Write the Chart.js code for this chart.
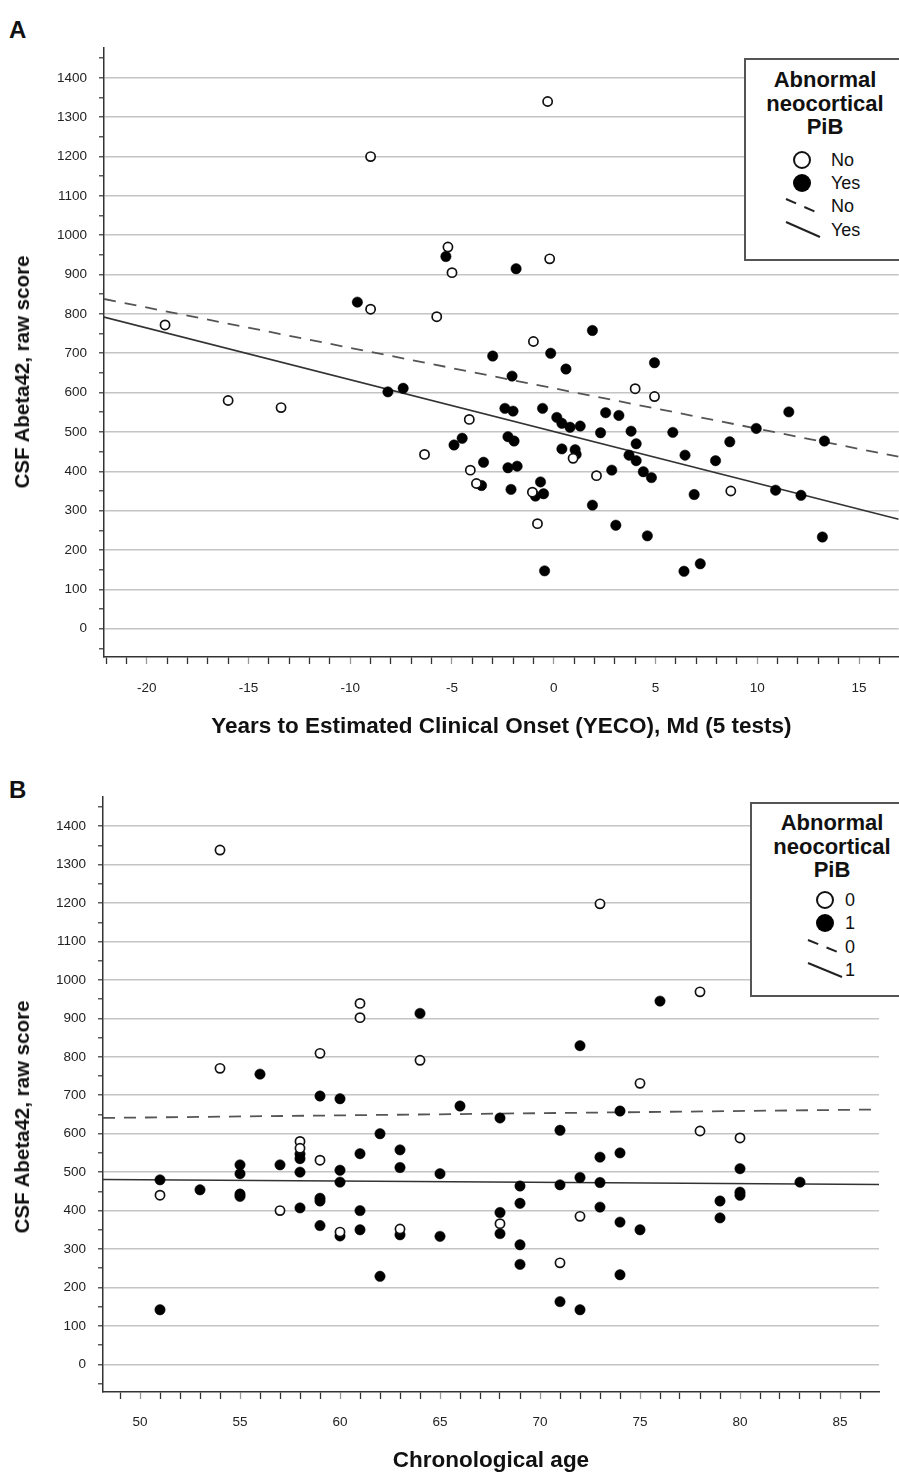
<!DOCTYPE html>
<html lang="en">
<head>
<meta charset="UTF-8">
<title>CSF Abeta42 by YECO and by age</title>
<script src="https://cdn.jsdelivr.net/npm/chart.js"></script>
<style>
  html, body { margin: 0; padding: 0; background: #fff; overflow: hidden; }
  body { position: relative; width: 899px; height: 1474px; font-family: "Liberation Sans", Arial, sans-serif; color: #111; }
  .panel { position: absolute; left: 0; }
  .letter { position: absolute; left: 9px; font-size: 24px; font-weight: bold; line-height: 26px; }
  .ytitle { position: absolute; left: 22px; width: 0; height: 0; }
  .ytitle span { position: absolute; left: 0; top: 0; transform: translate(-50%, -50%) rotate(-90deg);
    white-space: nowrap; font-weight: bold; font-size: 20.5px; line-height: 24px; }
  .legend { position: absolute; background: #fff; border: 2px solid #555; box-sizing: border-box; }
  .legend .ttl { text-align: center; font-weight: bold; font-size: 22px; line-height: 23.5px; }
  .legend svg { position: absolute; left: 0; top: 0; }
  .legend .item { position: absolute; font-size: 18px; line-height: 20px; }
</style>
</head>
<body>

<div class="letter" style="top:17px;">A</div>
<div class="letter" style="top:777px;">B</div>

<canvas id="chartA" class="panel" style="top:0;" width="905" height="760"></canvas>
<canvas id="chartB" class="panel" style="top:760px;" width="899" height="714"></canvas>

<div class="ytitle" style="top:372px;"><span>CSF Abeta42, raw score</span></div>
<div class="ytitle" style="top:1117px;"><span>CSF Abeta42, raw score</span></div>

<!-- legend panel A -->
<div class="legend" style="left:744px; top:58px; width:162px; height:203px;">
  <div class="ttl" style="padding-top:8px;">Abnormal<br>neocortical<br>PiB</div>
  <svg width="160" height="200">
    <circle cx="56" cy="100" r="8" fill="#fff" stroke="#111" stroke-width="2"/>
    <circle cx="56" cy="123" r="9" fill="#000"/>
    <line x1="40" y1="139" x2="72" y2="153" stroke="#222" stroke-width="2" stroke-dasharray="11 9"/>
    <line x1="40" y1="162" x2="74" y2="177" stroke="#222" stroke-width="2"/>
  </svg>
  <div class="item" style="left:85px; top:90px;">No</div>
  <div class="item" style="left:85px; top:113px;">Yes</div>
  <div class="item" style="left:85px; top:136px;">No</div>
  <div class="item" style="left:85px; top:160px;">Yes</div>
</div>

<!-- legend panel B -->
<div class="legend" style="left:750px; top:802px; width:164px; height:195px;">
  <div class="ttl" style="padding-top:7px;">Abnormal<br>neocortical<br>PiB</div>
  <svg width="160" height="192">
    <circle cx="73" cy="96" r="8" fill="#fff" stroke="#111" stroke-width="2"/>
    <circle cx="73" cy="119" r="9" fill="#000"/>
    <line x1="56" y1="136" x2="88" y2="149" stroke="#222" stroke-width="2" stroke-dasharray="11 9"/>
    <line x1="56" y1="159" x2="90" y2="173" stroke="#222" stroke-width="2"/>
  </svg>
  <div class="item" style="left:93px; top:86px;">0</div>
  <div class="item" style="left:93px; top:109px;">1</div>
  <div class="item" style="left:93px; top:133px;">0</div>
  <div class="item" style="left:93px; top:156px;">1</div>
</div>

<script>
  // ---- panel A: years to estimated clinical onset ----
  const yecoNoPib  = [-19.1, -16.0, -13.4, -9.0, -9.0, -6.35, -5.75, -5.2, -5.0, -4.15, -4.1, -3.8, -1.05, -1.0, -0.8, -0.3, -0.2, 0.95, 2.1, 4.0, 4.95, 8.7];
  const abetaNoPibA = [772, 580, 562, 1200, 812, 443, 793, 970, 905, 532, 403, 369, 347, 730, 267, 1340, 940, 433, 389, 610, 590, 350];

  const yecoPib = [-9.65, -8.15, -7.4, -5.3, -4.9, -4.5, -3.55, -3.45, -3.0, -2.4, -2.25, -2.25, -2.1, -2.05, -2.0, -1.95, -1.85, -1.8,
    -0.9, -0.65, -0.55, -0.5, -0.45, -0.15, 0.15, 0.4, 0.4, 0.6, 0.8, 1.05, 1.1, 1.3, 1.9, 1.9, 2.3, 2.55, 2.85, 3.05, 3.2, 3.7,
    3.8, 4.05, 4.05, 4.4, 4.6, 4.8, 4.95, 5.85, 6.4, 6.45, 6.9, 7.2, 7.95, 8.65, 9.95, 10.9, 11.55, 12.15, 13.2, 13.3];
  const abetaPibA = [830, 602, 611, 946, 467, 484, 364, 423, 693, 560, 488, 409, 354, 642, 553, 477, 915, 413,
    337, 373, 560, 343, 147, 700, 537, 522, 457, 660, 512, 455, 443, 515, 758, 314, 498, 549, 403, 263, 542, 441,
    502, 470, 427, 399, 236, 384, 676, 499, 146, 441, 341, 165, 427, 475, 509, 352, 551, 339, 233, 477];

  // fit lines, read at the left and right edge of the plot
  const yecoEnds = [-22.1, 16.95];
  const fitNoA   = [838, 437];
  const fitYesA  = [792, 278];

  // ---- panel B: chronological age ----
  const ageNoPib = [51, 54, 54, 57, 58, 58, 59, 59, 60, 61, 61, 63, 64, 68, 71, 72, 73, 75, 78, 78, 80];
  const abetaNoPibB = [440, 1338, 770, 400, 580, 562, 809, 531, 344, 939, 902, 352, 791, 366, 264, 385, 1198, 731, 969, 607, 589];

  const agePib = [51, 51, 53, 55, 55, 55, 55, 56, 57, 58, 58, 58, 58, 59, 59, 59, 59, 60, 60, 60, 60, 61, 61, 61, 62, 62,
    63, 63, 63, 64, 65, 65, 66, 68, 68, 68, 69, 69, 69, 69, 71, 71, 71, 72, 72, 72, 73, 73, 73, 74, 74, 74, 74, 75, 76,
    79, 79, 80, 80, 80, 83];
  const abetaPibB = [480, 142, 454, 519, 496, 443, 437, 755, 519, 547, 535, 500, 407, 698, 432, 425, 361, 691, 505, 474, 334, 548, 400, 350, 600, 229,
    558, 512, 337, 913, 496, 333, 672, 641, 395, 340, 464, 419, 311, 260, 609, 467, 163, 829, 486, 142, 539, 473, 409, 659, 550, 370, 233, 350, 945,
    425, 381, 509, 448, 440, 474];

  const ageEnds = [48.15, 86.95];
  const fitNoB  = [641, 663];
  const fitYesB = [481, 468];

  // ---- axis ticks ----
  const yLabels = [0, 100, 200, 300, 400, 500, 600, 700, 800, 900, 1000, 1100, 1200, 1300, 1400];
  const xLabelsA = [-20, -15, -10, -5, 0, 5, 10, 15];
  const xLabelsB = [50, 55, 60, 65, 70, 75, 80, 85];

  function range(a, b, step) {
    const out = [];
    for (let v = a; v <= b; v += step) out.push(v);
    return out;
  }
  const yTickPos = range(-50, 1450, 50);

  const FAMILY = "'Liberation Sans', Arial, sans-serif";
  Chart.defaults.font.family = FAMILY;

  function pts(xs, ys) {
    return xs.map((x, i) => ({ x: x, y: ys[i] }));
  }

  function buildChart(id, o) {
    return new Chart(document.getElementById(id), {
      type: 'scatter',
      data: {
        datasets: [
          { label: 'No', data: pts(o.openX, o.openY), pointRadius: 4.6, pointHoverRadius: 4.6,
            pointBackgroundColor: '#fff', pointBorderColor: '#111', pointBorderWidth: 1.7 },
          { label: 'Yes', data: pts(o.fillX, o.fillY), pointRadius: 5.2, pointHoverRadius: 5.2,
            pointBackgroundColor: '#000', pointBorderColor: '#000', pointBorderWidth: 0.5 },
          { label: 'No fit', data: pts(o.ends, o.fitNo), showLine: true, pointRadius: 0,
            borderColor: '#555', borderWidth: 1.8, borderDash: [12, 9] },
          { label: 'Yes fit', data: pts(o.ends, o.fitYes), showLine: true, pointRadius: 0,
            borderColor: '#333', borderWidth: 1.6 }
        ]
      },
      options: {
        responsive: false,
        animation: false,
        devicePixelRatio: 1,
        layout: { padding: { top: o.padTop, right: o.padRight, left: 0, bottom: 0 } },
        plugins: { legend: { display: false }, tooltip: { enabled: false } },
        scales: {
          x: {
            type: 'linear', bounds: 'data', min: o.ends[0], max: o.ends[1],
            afterBuildTicks: ax => { ax.ticks = o.xTicks.map(v => ({ value: v })); },
            afterFit: ax => { ax.height = o.xAxisH; },
            border: { display: true, color: '#333', width: 1.5 },
            grid: {
              drawOnChartArea: false, drawTicks: true, tickLength: 7, tickWidth: 1.3,
              tickColor: ctx => (ctx.tick && o.xLabels.includes(ctx.tick.value)) ? '#999' : '#333'
            },
            ticks: {
              autoSkip: false, maxRotation: 0, padding: o.xTickPad, color: '#222',
              font: { size: 13.5 },
              callback: v => o.xLabels.includes(v) ? String(v) : ''
            },
            title: {
              display: true, text: o.xTitle, color: '#111',
              font: { size: 22.5, weight: 'bold' },
              padding: { top: 0, bottom: o.xTitlePad }
            }
          },
          y: {
            type: 'linear', bounds: 'data', min: -72, max: 1476,
            afterBuildTicks: ax => { ax.ticks = yTickPos.map(v => ({ value: v })); },
            afterFit: ax => { ax.width = o.yAxisW; },
            border: { display: true, color: '#333', width: 1.5 },
            grid: {
              lineWidth: 1.6,
              color: ctx => (ctx.tick && yLabels.includes(ctx.tick.value)) ? '#c4c4c4' : 'rgba(0,0,0,0)',
              drawTicks: true, tickLength: 5, tickWidth: 1.2, tickColor: '#333'
            },
            ticks: {
              autoSkip: false, padding: 12, color: '#222',
              font: { size: 13.5 },
              callback: v => yLabels.includes(v) ? String(v) : ''
            },
            // axis title is placed as a page element so it can sit where the original has it
            title: { display: false }
          }
        }
      }
    });
  }

  buildChart('chartA', {
    openX: yecoNoPib, openY: abetaNoPibA,
    fillX: yecoPib, fillY: abetaPibA,
    ends: yecoEnds, fitNo: fitNoA, fitYes: fitYesA,
    xTicks: range(-22, 16, 1), xLabels: xLabelsA,
    xTitle: 'Years to Estimated Clinical Onset (YECO), Md (5 tests)',
    padTop: 48, padRight: 0, yAxisW: 104, xAxisH: 103, xTickPad: 16, xTitlePad: 20
  });

  buildChart('chartB', {
    openX: ageNoPib, openY: abetaNoPibB,
    fillX: agePib, fillY: abetaPibB,
    ends: ageEnds, fitNo: fitNoB, fitYes: fitYesB,
    xTicks: range(49, 86, 1), xLabels: xLabelsB,
    xTitle: 'Chronological age',
    padTop: 37, padRight: 20, yAxisW: 103, xAxisH: 82, xTickPad: 15, xTitlePad: 0
  });
</script>
</body>
</html>
